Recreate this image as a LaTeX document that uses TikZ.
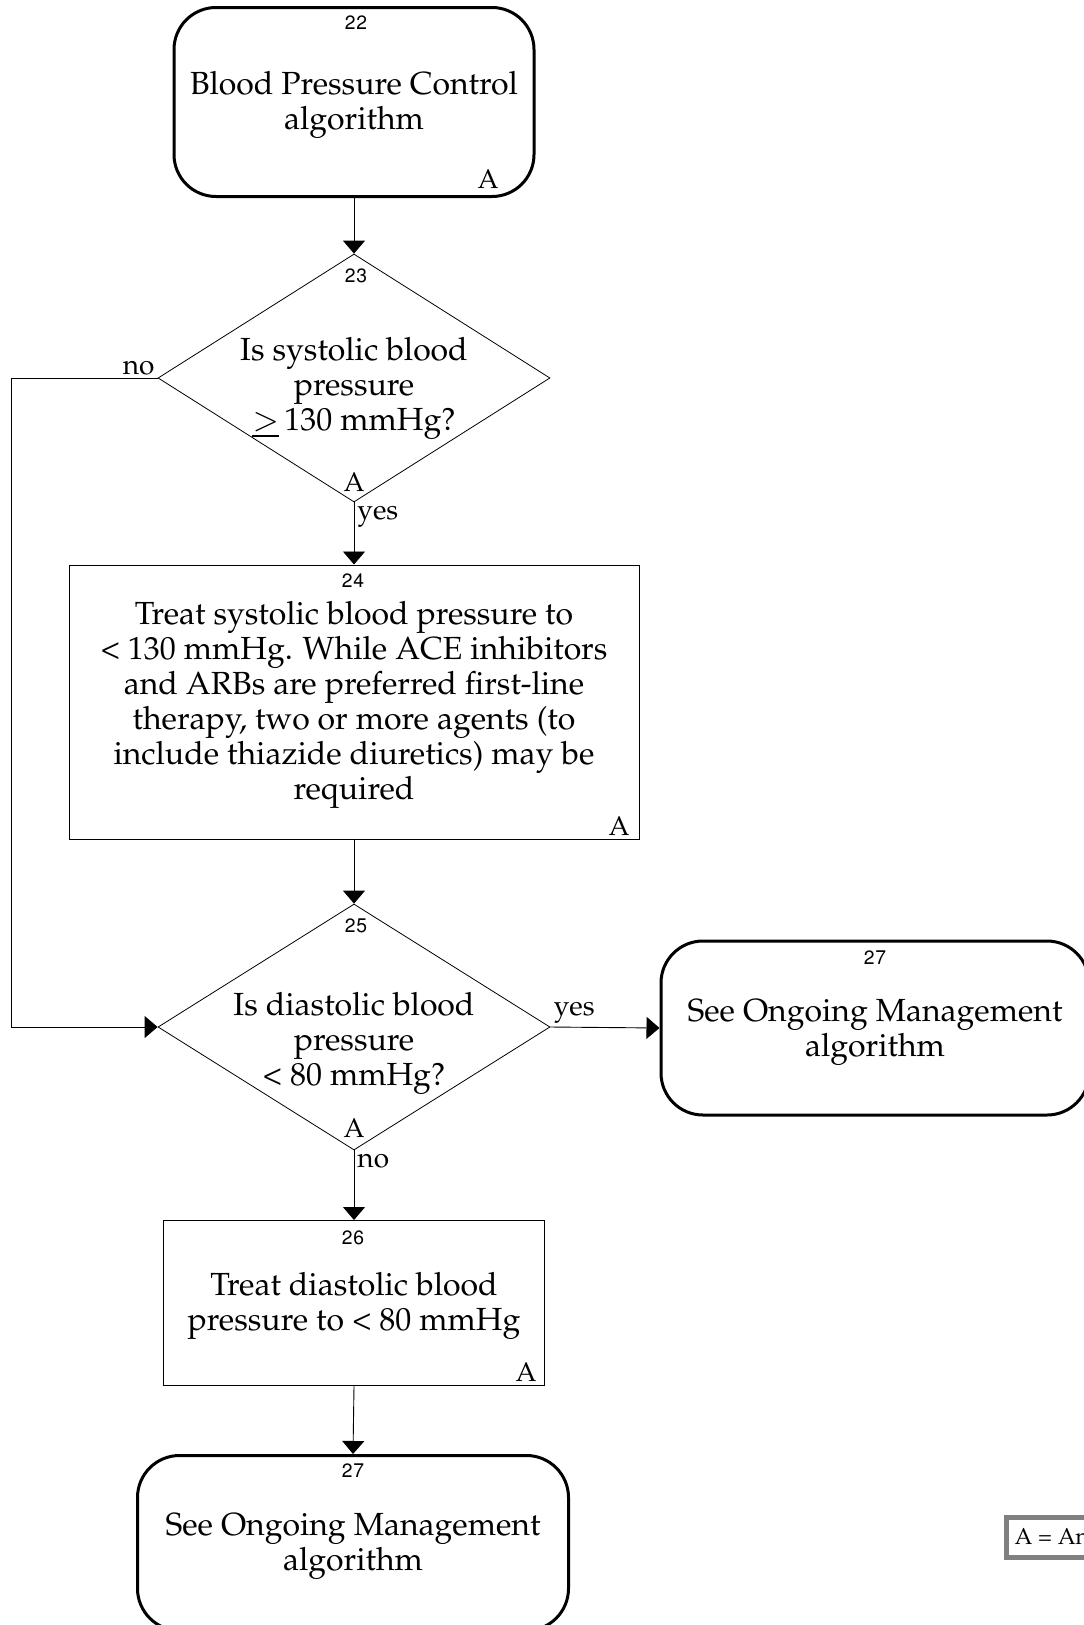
\documentclass[tikz,border=0pt]{standalone}
\usepackage[T1]{fontenc}
\usepackage{mathpazo}
\usepackage[scaled=0.92]{helvet}
\usetikzlibrary{shapes.geometric,arrows.meta,positioning}

\begin{document}
\begin{tikzpicture}[x=1pt,y=-1pt,
  every node/.style={font=\fontsize{32}{35}\selectfont, align=center},
  startbox/.style={draw, line width=3pt, rounded corners=42pt, inner sep=0pt},
  procbox/.style={draw, line width=1pt, inner sep=0pt},
  decide/.style={draw, diamond, line width=0.8pt, inner sep=0pt,
    minimum width=392pt, minimum height=248pt},
  num/.style={font=\sffamily\fontsize{21}{21}\selectfont},
  note/.style={font=\fontsize{27}{27}\selectfont},
  tag/.style={font=\fontsize{28}{28}\selectfont, inner sep=3pt},
  link/.style={line width=0.9pt, -{Triangle[width=22pt,length=13pt]}}]
\useasboundingbox (0,0) rectangle (1084,1625);
\clip (0,0) rectangle (1084,1625);
% boxes
\node[startbox, minimum width=360, minimum height=189] (b22) at (354,102) {};
\node (t22) at (354,105) {Blood Pressure Control\\algorithm};
\node[decide] (d23) at (354,378) {};
\node (t23) at (354,388) {Is systolic blood\\pressure\\$\underline{>}$\,130 mmHg?};
\node[procbox, minimum width=570, minimum height=274] (b24) at (354,702) {};
\node (t24) at (354,705) {Treat systolic blood pressure to\\\textless\ 130 mmHg. While ACE inhibitors\\and ARBs are preferred first-line\\therapy, two or more agents (to\\include thiazide diuretics) may be\\required};
\node[decide, minimum height=246] (d25) at (354,1027) {};
\node (t25) at (354,1043) {Is diastolic blood\\pressure\\\textless\ 80 mmHg?};
\node[startbox, minimum width=428, minimum height=174] (b27r) at (875,1028) {};
\node (t27r) at (875,1032) {See Ongoing Management\\algorithm};
\node[procbox, minimum width=381, minimum height=165] (b26) at (354,1303) {};
\node (t26) at (354,1306) {Treat diastolic blood\\pressure to \textless\ 80 mmHg};
\node[startbox, minimum width=431, minimum height=175] (b27b) at (353,1543) {};
\node (t27b) at (353,1546) {See Ongoing Management\\algorithm};
% box numbers
\node[num] (n22) at (356,23) {2\kern1pt 2};
\node[num] (n23) at (356,276) {2\kern1pt 3};
\node[num] (n24) at (353,581) {2\kern1pt 4};
\node[num] (n25) at (356,926) {2\kern1pt 5};
\node[num] (n27r) at (875,958) {2\kern1pt 7};
\node[num] (n26) at (353,1238) {2\kern1pt 6};
\node[num] (n27b) at (353,1471) {2\kern1pt 7};
% annotations
\node[note] (a22) at (488,179) {A};
\node[note] (a23) at (354,482) {A};
\node[note] (a24) at (619,826) {A};
\node[note] (a25) at (354,1128) {A};
\node[note] (a26) at (526,1372) {A};
% connectors
\draw[link] (b22.south) -- (d23.north);
\draw[link] (d23.south) -- (b24.north) node[tag, below right, at start] {yes};
\draw[link] (d23.west) -- ++(-146,0) |- (d25.west);
\node[tag, above left] (no23) at (d23.west) {no};
\draw[link] (b24.south) -- (d25.north);
\draw[link] (d25.east) -- (b27r.west) node[tag, above right, at start] {yes};
\draw[link] (d25.south) -- (b26.north) node[tag, below right, at start] {no};
\draw[link] (b26.south) -- (b27b.north);
% legend
\node[draw=gray, line width=5pt, anchor=west, minimum height=40, inner xsep=8pt,
  font=\fontsize{23}{23}\selectfont] (legend) at (1004,1537) {A = Annotation};
\end{tikzpicture}
\end{document}
